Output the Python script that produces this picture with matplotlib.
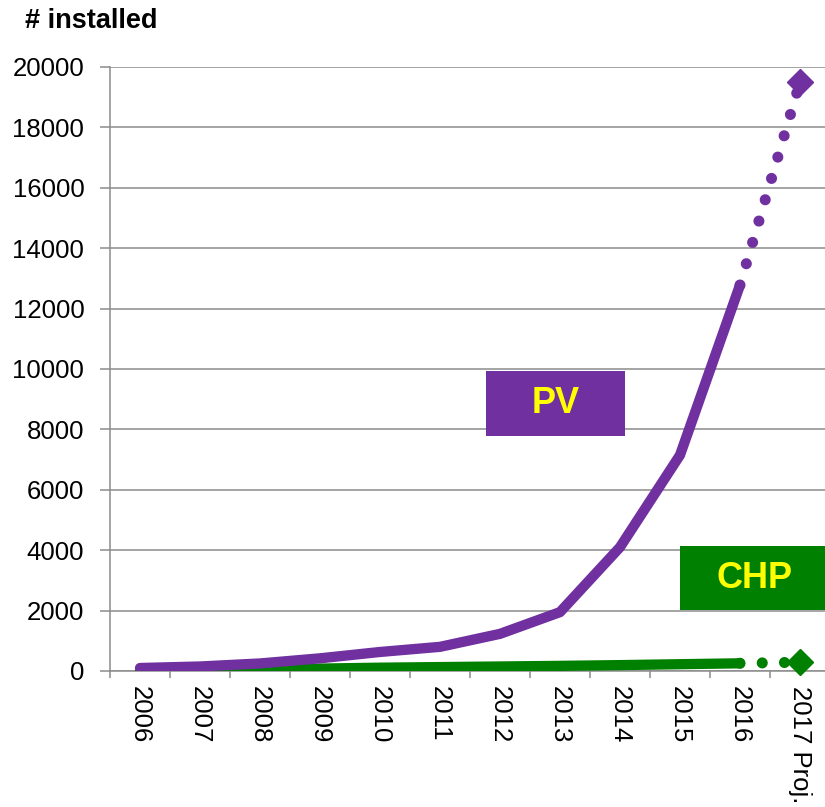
import matplotlib
matplotlib.use("Agg")
import matplotlib.pyplot as plt
from matplotlib.patches import Rectangle
import numpy as np

plt.rcParams['font.family'] = ['Liberation Sans', 'DejaVu Sans']

categories = ["2006", "2007", "2008", "2009", "2010", "2011", "2012",
              "2013", "2014", "2015", "2016", "2017 Proj."]
pv = [100, 150, 250, 420, 630, 800, 1230, 1950, 4100, 7150, 12780, 19500]
chp = [10, 25, 45, 80, 110, 130, 150, 170, 195, 225, 255, 290]
y_ticks = list(range(0, 20001, 2000))

W, H = 825, 807
PURPLE = "#7030A0"
GREEN = "#008000"
GRID = "#8c8c8c"

fig = plt.figure(figsize=(W / 100, H / 100), dpi=100)
ax = fig.add_axes([110 / W, (H - 671) / H, 720 / W, 604 / H])

x = np.arange(len(categories))
n_hist = len(categories) - 1  # last point is projection

lw = 7.4
for vals, col in ((chp, GREEN), (pv, PURPLE)):
    ax.plot(x[:n_hist], vals[:n_hist], color=col, lw=lw,
            solid_capstyle='round', solid_joinstyle='round', zorder=3)
    ln, = ax.plot(x[n_hist - 1:], vals[n_hist - 1:], color=col, lw=8.0,
                  dash_capstyle='round', zorder=3)
    ln.set_dashes((0.001, 2.0))
    ax.plot(x[-1:], vals[-1:], marker='D', ms=13, color=col, mec=col,
            mew=1, ls='none', zorder=4, clip_on=False)

ax.set_xlim(-0.5, len(categories) - 0.5)
ax.set_ylim(0, 20000)
ax.set_yticks(y_ticks)
ax.set_yticklabels([str(v) for v in y_ticks], fontsize=18.5)
ax.yaxis.grid(True, color=GRID, lw=1.1)
ax.set_axisbelow(True)

ax.set_xticks(np.arange(-0.5, len(categories), 1.0))
ax.set_xticklabels([])
ax.set_xticks(x, minor=True)
ax.set_xticklabels(categories, minor=True, rotation=270, fontsize=18.5,
                   va='top', ha='center')
ax.tick_params(axis='x', which='major', length=5, width=1.1, color=GRID,
               direction='out')
ax.tick_params(axis='x', which='minor', length=0, pad=11)
ax.tick_params(axis='y', length=7, width=1.1, color=GRID, pad=11.5)

for s in ('top', 'right'):
    ax.spines[s].set_visible(False)
for s in ('left', 'bottom'):
    ax.spines[s].set_color(GRID)
    ax.spines[s].set_linewidth(1.1)

fig.text(25 / W, 1 - 28 / H, "# installed", fontsize=19.5, fontweight='bold',
         va='baseline', ha='left')

# Label boxes
def label_box(x0, y0, x1, y1, color, text):
    fig.add_artist(Rectangle((x0 / W, 1 - y1 / H), (x1 - x0) / W,
                             (y1 - y0) / H, transform=fig.transFigure,
                             facecolor=color, edgecolor='none', zorder=5))
    fig.text((x0 + x1) / 2 / W, 1 - (y0 + y1) / 2 / H, text, color="#FFFF00",
             fontsize=26, fontweight='bold', ha='center', va='center',
             zorder=6)

label_box(486, 371, 625, 436, PURPLE, "PV")
label_box(680, 546, 830, 610, GREEN, "CHP")

fig.savefig("out.png", dpi=100)
